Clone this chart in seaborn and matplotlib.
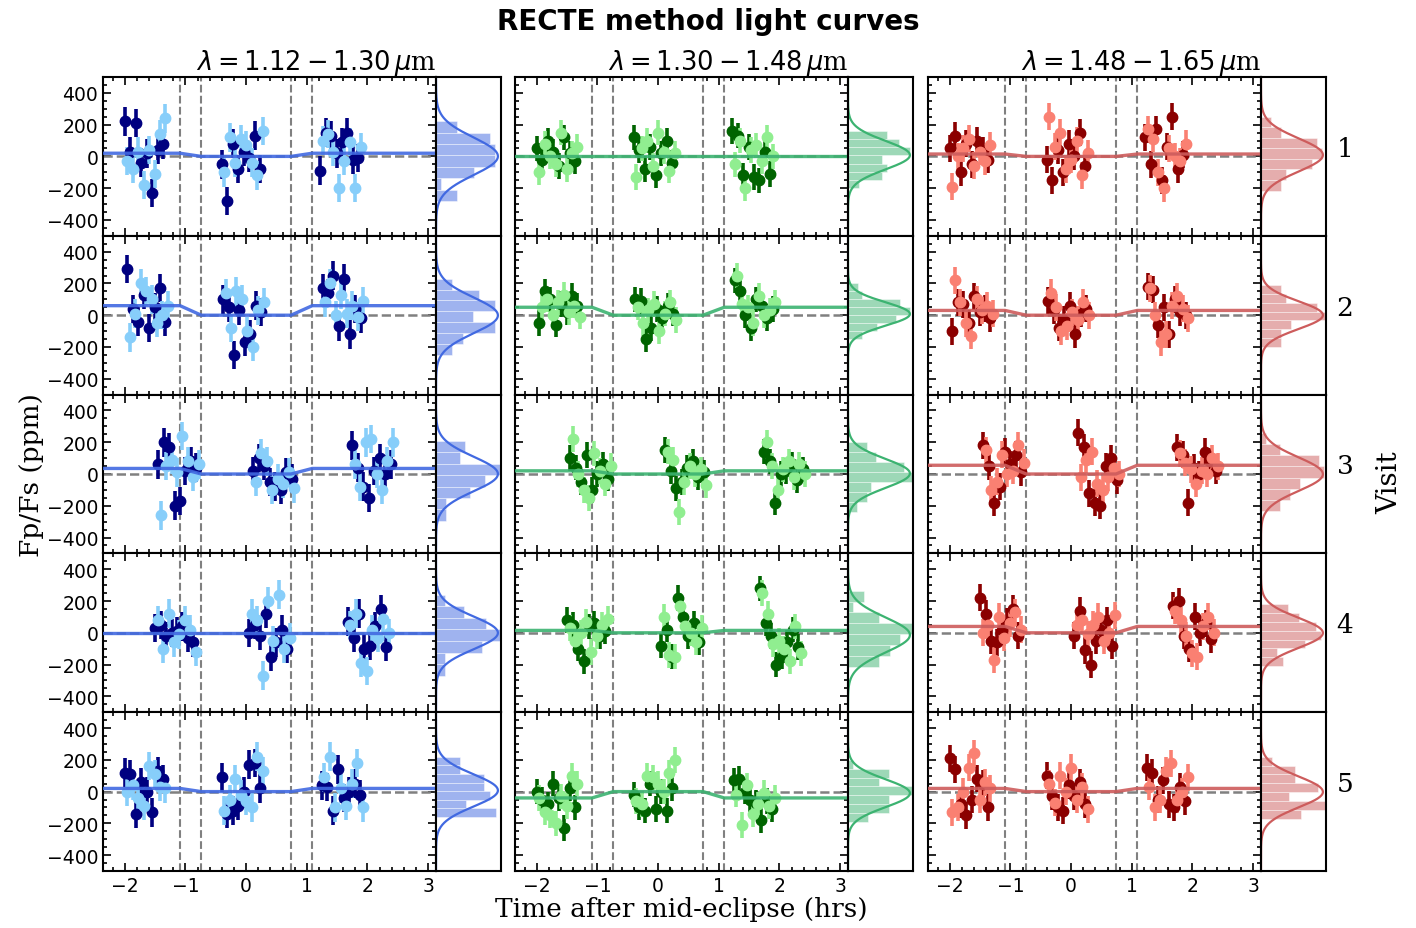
import numpy as np
import matplotlib
matplotlib.use('Agg')
import matplotlib.pyplot as plt
import seaborn as sns
from matplotlib.ticker import MultipleLocator

# ---- data -----------------------------------------------------------------
col_titles = [r'$\lambda = 1.12 - 1.30\,\mu$m',
              r'$\lambda = 1.30 - 1.48\,\mu$m',
              r'$\lambda = 1.48 - 1.65\,\mu$m']
visit_labels = ['1', '2', '3', '4', '5']
dark_colors = ['navy', 'darkgreen', 'darkred']
light_colors = ['lightskyblue', 'lightgreen', 'salmon']
model_colors = ['royalblue', 'mediumseagreen', 'indianred']

contacts = [-1.09, -0.74, 0.74, 1.09]          # hrs, ingress / egress
orbit_starts = [[-2.00, -0.40, 1.22],
                [-1.96, -0.38, 1.26],
                [-1.45, 0.12, 1.75],
                [-1.50, 0.05, 1.68],
                [-2.00, -0.40, 1.25]]
# exposure times inside one orbit, forward / reverse scans interleaved
exposure_offsets = [0.00, 0.04, 0.09, 0.13, 0.18, 0.22, 0.27, 0.31,
                    0.36, 0.40, 0.45, 0.49, 0.54, 0.58, 0.63, 0.67]
depths = [[20, 0, 15], [60, 50, 30], [35, 20, 55], [0, 15, 40], [20, -40, 20]]
col_err = [90, 80, 85]

blue_dark = [
    [220, 30, 210, -40, 20, -230, 40, 75, -50, -280, 80, -80, 30, -10, 130, -80, -90, 150, 130, 20, 90, 150, -20, -10],
    [290, 40, -40, 130, -80, 50, 170, -40, 100, 50, -250, 30, -170, -120, 60, 20, 170, 140, 250, -70, 230, -120, 40, -20],
    [60, 200, 170, -200, -170, 20, 80, 40, 20, 100, 50, -50, -80, -100, 10, -30, 180, 40, -80, -150, 20, 100, 0, 60],
    [30, 50, -20, 0, 10, 40, -30, -60, 0, 50, -20, 120, -150, -60, 20, -100, 70, -30, 120, -100, -80, 40, 150, -90],
    [120, 110, -140, 60, 0, -130, 130, 80, 90, -140, -120, -90, 0, 170, 180, 20, 40, 30, -120, 140, -40, 0, 50, -20]]
blue_light = [
    [-30, -80, 30, -180, 40, -110, 140, 240, -100, 120, -40, 110, 70, -40, -120, 160, 100, 140, 30, -200, -30, 90, -200, 60],
    [-140, 10, 200, 150, 100, -50, 0, 60, 140, -80, 150, 100, -100, -200, 30, 80, 80, 200, 0, 130, 10, 60, -10, 90],
    [-260, 50, 90, 10, 240, 80, -20, 60, -50, 130, 80, -100, -30, -60, 10, -90, 60, -80, 200, 220, 0, -100, 80, 200],
    [80, -100, 120, -60, -10, 80, 20, -120, 120, 80, -270, 200, -50, 240, -100, -30, 50, 120, -190, -240, 20, -30, 90, 0],
    [0, 40, -40, -90, 160, 110, 30, 20, -120, -50, 80, -20, -60, -100, 220, 130, 90, 220, -100, 20, -90, 50, 180, -100]]
green_dark = [
    [50, -20, 100, 30, -60, 120, 20, -30, 120, 40, -80, 60, -120, 20, 100, -40, 160, 130, -120, 60, -130, -150, 30, -110],
    [-50, 150, 100, -60, 70, 20, 120, 60, 100, 90, -150, -80, 40, -20, 60, 10, 220, 150, 0, -80, 100, 60, -20, 40],
    [100, 40, -50, 120, -100, 0, 60, -30, 150, 20, -90, -50, 40, 80, -20, 10, 140, 80, -180, 0, 20, 60, -40, 30],
    [80, 50, -100, -180, 40, 60, -20, 10, -80, 20, -150, 220, 100, -20, 60, -60, 280, 60, -20, -200, -150, -60, 20, -90],
    [0, -50, -80, 50, -40, -230, 20, -100, -20, -100, -120, 50, -110, 0, -120, 20, 70, 80, 0, -50, -70, -180, -60, -110]]
green_light = [
    [-100, 80, 0, -50, 150, -80, 20, 60, -130, 50, 100, -60, 150, 30, -90, 20, -50, 100, -200, 40, 70, -30, 120, 0],
    [50, 100, 0, 80, 130, 20, 60, -10, 50, -50, 30, 70, -100, 10, 80, -30, 250, 70, 50, -50, 120, 0, 30, 80],
    [220, 0, -100, -150, 130, 20, -60, 50, 140, 90, -240, -50, 50, 0, 30, -70, 200, 50, -100, 30, 80, -20, 60, 0],
    [30, -50, 0, 70, -120, -20, 50, 90, 100, -140, -150, 170, 40, 0, -60, 30, 250, 120, -70, -50, -100, -180, 40, -130],
    [-40, -130, -150, -200, -30, -90, 100, 50, -60, -80, 100, 90, 50, 0, 120, 200, -20, -210, 40, -140, -80, -10, -90, -40]]
red_dark = [
    [50, 130, -100, 80, -50, 100, 40, -20, -20, -150, 40, -100, 80, 0, 150, -60, 120, -50, 170, -150, 60, 250, -80, 10],
    [-100, 80, 70, -50, 120, 20, 40, -20, 90, 30, -80, -30, 60, -120, 10, 40, 180, 160, -60, 50, -120, 100, 20, 0],
    [180, 50, -180, -80, 140, 60, 120, 10, 260, 170, -120, -180, -200, 50, 100, -40, 170, 120, -180, 40, 0, 140, 80, 20],
    [220, 120, -50, -60, 20, 70, 150, -20, -20, 140, -110, -200, -50, 20, 80, -80, 170, 200, -20, -100, 100, 0, 60, -40],
    [210, 140, -80, -150, -50, 80, 50, -100, 100, -30, -100, -120, 40, -30, 60, -80, 150, 120, -50, 70, -80, -100, 30, -60]]
red_light = [
    [-190, 0, 50, 110, -60, 30, -30, 70, 250, 60, 150, -80, -20, 100, -120, 20, 170, 110, -100, -200, 50, 0, -30, 80],
    [220, 80, -50, -130, 100, 30, 60, 10, 140, 50, -100, -70, 20, -30, 80, 0, 170, 0, -170, -120, 60, 120, 40, -20],
    [150, -100, -50, 120, 0, 20, 180, 70, -20, 90, 140, -60, -100, -20, 40, 0, 130, 70, 30, -60, 20, 0, 100, 50],
    [0, 50, -170, 100, -30, 60, 130, 20, 50, 80, -10, 50, 100, -50, 0, 110, 140, 80, -20, -130, -150, 40, 100, 0],
    [-130, -100, 0, 150, 240, -50, 60, 20, 50, -70, 100, 0, 150, -50, 30, -110, 30, -100, -50, 130, 180, -50, 0, 90]]

dark_data = [blue_dark, green_dark, red_dark]
light_data = [blue_light, green_light, red_light]

# ---- style ----------------------------------------------------------------
sns.set_style('ticks')
plt.rcParams['font.family'] = ['DejaVu Sans']
plt.rcParams['mathtext.fontset'] = 'dejavusans'
for key in ['text.color', 'axes.labelcolor', 'xtick.color', 'ytick.color', 'axes.edgecolor']:
    plt.rcParams[key] = 'black'

W, H = 1416, 929
fig = plt.figure(figsize=(W / 100, H / 100), dpi=100)
group_left = [103, 515, 928]
main_w, hist_w = 333, 65
top, row_h = 78, 158.8
xlim = (-2.36, 3.13)
offs = np.array(exposure_offsets)

for c in range(3):
    for r in range(5):
        y0 = 1 - (top + (r + 1) * row_h) / H
        ax = fig.add_axes([group_left[c] / W, y0, main_w / W, row_h / H])
        hax = fig.add_axes([(group_left[c] + main_w) / W, y0, hist_w / W, row_h / H])

        starts = orbit_starts[r]
        t_dark = np.concatenate([s + offs[0::2] for s in starts])
        t_light = np.concatenate([s + offs[1::2] for s in starts])
        y_dark = np.array(dark_data[c][r], dtype=float)
        y_light = np.array(light_data[c][r], dtype=float)

        d = depths[r][c]
        mx = [xlim[0], contacts[0], contacts[1], contacts[2], contacts[3], xlim[1]]
        my = [d, d, 0, 0, d, d]

        for v in contacts:
            ax.axvline(v, color='gray', ls='--', lw=1.5, zorder=1)
        ax.axhline(0, color='gray', ls='--', lw=1.8, zorder=1)
        ax.errorbar(t_dark, y_dark, yerr=col_err[c], fmt='o', color=dark_colors[c],
                    ms=7.5, elinewidth=2.6, capsize=0, zorder=2)
        ax.errorbar(t_light, y_light, yerr=col_err[c], fmt='o', color=light_colors[c],
                    ms=7.5, elinewidth=2.6, capsize=0, zorder=2)
        ax.plot(mx, my, color=model_colors[c], lw=2.4, alpha=0.9, zorder=3)

        ax.set_xlim(*xlim)
        ax.set_ylim(-500, 500)
        ax.xaxis.set_major_locator(MultipleLocator(1))
        ax.xaxis.set_minor_locator(MultipleLocator(0.2))
        ax.yaxis.set_major_locator(MultipleLocator(200))
        ax.yaxis.set_minor_locator(MultipleLocator(50))
        ax.tick_params(which='both', direction='in', top=True, right=True,
                       width=1.2, labelsize=13.5)
        ax.tick_params(which='major', length=6)
        ax.tick_params(which='minor', length=3)
        if c > 0:
            ax.tick_params(labelleft=False)
        if r < 4:
            ax.tick_params(labelbottom=False)
        for sp in ax.spines.values():
            sp.set_linewidth(1.5)

        # residual histogram + gaussian
        t_all = np.concatenate([t_dark, t_light])
        resid = np.concatenate([y_dark, y_light]) - np.interp(t_all, mx, my)
        counts, edges = np.histogram(resid, bins=7, density=True)
        hax.barh(edges[:-1], counts, height=np.diff(edges), align='edge',
                 color=model_colors[c], alpha=0.5, edgecolor='white', linewidth=0.6)
        mu, sig = resid.mean(), resid.std()
        grid = np.linspace(-500, 500, 400)
        pdf = np.exp(-0.5 * ((grid - mu) / sig) ** 2) / (sig * np.sqrt(2 * np.pi))
        sns.lineplot(x=pdf, y=grid, ax=hax, color=model_colors[c], lw=1.6,
                     sort=False, estimator=None)
        hax.set_ylim(-500, 500)
        hax.set_xlim(0, pdf.max() * 1.05)
        hax.set_xticks([])
        hax.set_yticks([])
        hax.set_xlabel('')
        hax.set_ylabel('')
        for sp in hax.spines.values():
            sp.set_visible(True)
            sp.set_linewidth(1.5)

        if r == 0:
            ax.set_title(col_titles[c], loc='right', fontsize=18.5, family='DejaVu Serif', pad=4)
        if c == 1 and r == 4:
            ax.set_xlabel('Time after mid-eclipse (hrs)', fontsize=19, family='DejaVu Serif', labelpad=1)
        if c == 0 and r == 2:
            ax.set_ylabel('Fp/Fs (ppm)', fontsize=19, family='DejaVu Serif', labelpad=2)
        if c == 2:
            fig.text(1345 / W, y0 + (row_h + 16) / H / 2, visit_labels[r], fontsize=19,
                     family='DejaVu Serif', ha='center', va='center')

fig.text(1390 / W, 1 - (top + 2.5 * row_h + 8) / H, 'Visit', rotation=90, fontsize=20,
         family='DejaVu Serif', ha='center', va='center')
fig.suptitle('RECTE method light curves', fontsize=20, fontweight='bold', y=1 - 8 / H)

fig.savefig('out.png', dpi=100)
